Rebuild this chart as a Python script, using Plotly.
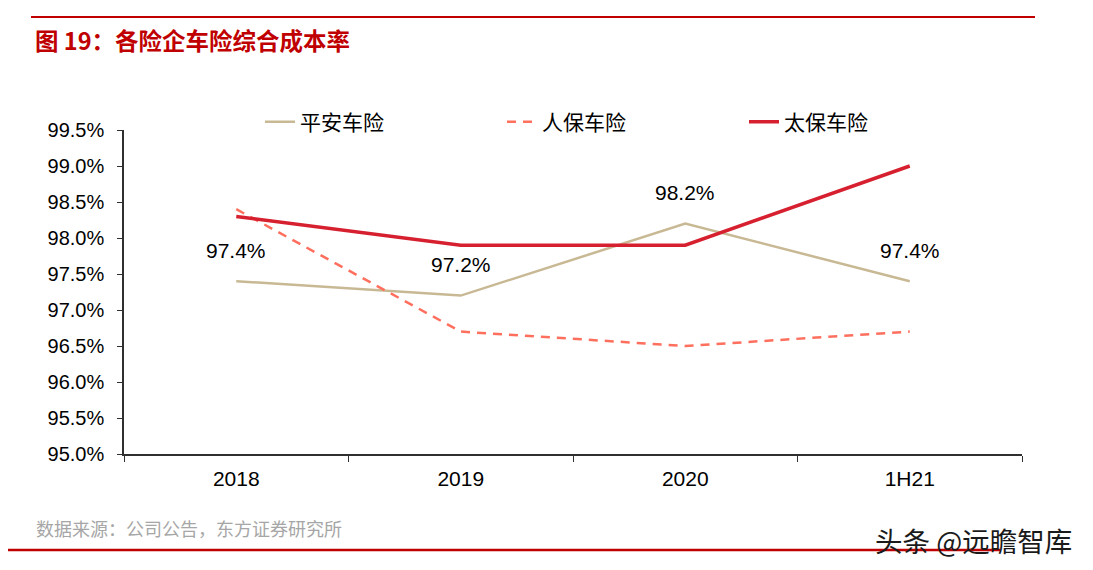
import plotly.graph_objects as go

categories = ["2018", "2019", "2020", "1H21"]
pingan = [97.4, 97.2, 98.2, 97.4]
renbao = [98.4, 96.7, 96.5, 96.7]
taibao = [98.3, 97.9, 97.9, 99.0]
series_names = ["平安车险", "人保车险", "太保车险"]
y_ticks = [95.0, 95.5, 96.0, 96.5, 97.0, 97.5, 98.0, 98.5, 99.0, 99.5]

FONT = "Liberation Sans, Arial, Noto Sans CJK SC, sans-serif"
CJK = "Noto Sans CJK SC, sans-serif"

fig = go.Figure()
fig.add_trace(go.Scatter(x=categories, y=pingan, name=series_names[0], mode="lines",
                         line=dict(color="#C8B994", width=2.5)))
fig.add_trace(go.Scatter(x=categories, y=renbao, name=series_names[1], mode="lines",
                         line=dict(color="#FF6F5E", width=2.5, dash="9px,7px")))
fig.add_trace(go.Scatter(x=categories, y=taibao, name=series_names[2], mode="lines",
                         line=dict(color="#D7202F", width=3.5)))

for i, v in enumerate(pingan):
    fig.add_annotation(x=i, y=v, text=f"{v:.1f}%", showarrow=False, yshift=31,
                       font=dict(family=FONT, size=21, color="#000000"))

# page body has an 8px margin, so the figure is offset by 8px
OFF = 8
W, H = 1093, 570
pw, ph = 898, 324
L, T = 124 - OFF, 130 - OFF
R, B = W - L - pw, H - T - ph

def px(x):
    return (x - 124) / pw

def py(y):
    return (454 - y) / ph

fig.add_annotation(xref="paper", yref="paper", x=px(33), y=py(40), xanchor="left", yanchor="middle",
                   text="<b>图 19：各险企车险综合成本率</b>", showarrow=False,
                   font=dict(family=CJK, size=23.5, color="#C00000"))
fig.add_annotation(xref="paper", yref="paper", x=px(34), y=py(528), xanchor="left", yanchor="middle",
                   text="数据来源：公司公告，东方证券研究所", showarrow=False,
                   font=dict(family=CJK, size=18, color="#A6A6A6"))
fig.add_shape(type="line", xref="paper", yref="paper", x0=px(31), x1=px(1035), y0=py(17), y1=py(17),
              line=dict(color="#C00000", width=2))
fig.add_shape(type="line", xref="paper", yref="paper", x0=px(8), x1=px(1000), y0=py(550), y1=py(550),
              line=dict(color="#C00000", width=2.5))
fig.add_annotation(xref="paper", yref="paper", x=px(873), y=py(540), xanchor="left", yanchor="middle",
                   text="头条 @远瞻智库", showarrow=False,
                   font=dict(family=CJK, size=27.5, color="#1A1A1A"))

fig.update_layout(
    width=W, height=H,
    margin=dict(l=L, r=R, t=T, b=B, autoexpand=False),
    paper_bgcolor="white", plot_bgcolor="white",
    font=dict(family=FONT, size=20, color="#000000"),
    showlegend=True,
    legend=dict(orientation="h", x=px(260), y=py(122), xanchor="left", yanchor="middle",
                entrywidth=197, entrywidthmode="pixels",
                font=dict(family=CJK, size=21, color="#000000"), bgcolor="rgba(0,0,0,0)"),
    xaxis=dict(type="category", range=[-0.5, 3.5], showline=True, linecolor="#303030", linewidth=1.5,
               ticks="outside", tickson="boundaries", ticklen=6, tickcolor="#303030",
               showgrid=False, zeroline=False, tickfont=dict(family=FONT, size=21),
               ticklabelstandoff=5),
    yaxis=dict(range=[95, 99.5], tickvals=y_ticks, ticktext=[f"{v:.1f}%" for v in y_ticks],
               showline=True, linecolor="#303030", linewidth=1.5, ticks="outside", ticklen=5,
               tickcolor="#303030", showgrid=False, zeroline=False,
               tickfont=dict(family=FONT, size=20), ticklabelstandoff=9),
)

fig.write_html("out.html")
